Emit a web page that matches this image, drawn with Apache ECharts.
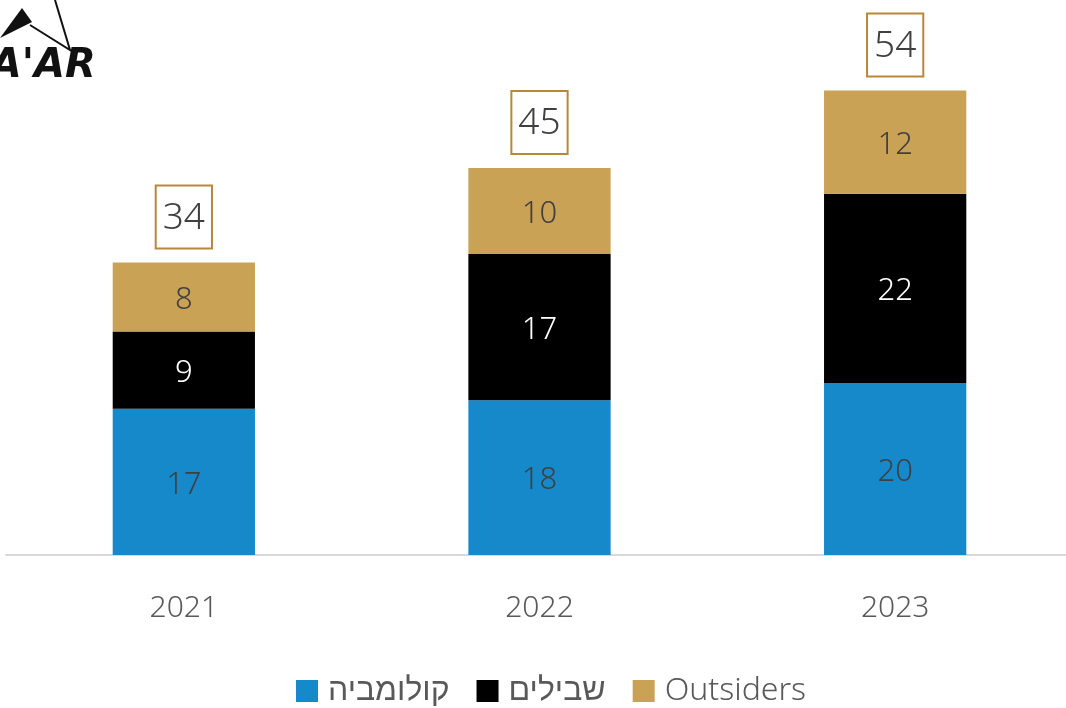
<!DOCTYPE html>
<html>
<head>
<meta charset="utf-8">
<script src="https://cdn.jsdelivr.net/npm/echarts@6/dist/echarts.min.js"></script>
<style>
  html, body { margin: 0; padding: 0; background: #fff; overflow: hidden; }
  #chart { width: 1080px; height: 708px; }
</style>
</head>
<body>
<div id="chart"></div>
<script>
// data
var years = ['2021', '2022', '2023'];
var colombia = [17, 18, 20];   // קולומביה
var shvilim = [9, 17, 22];     // שבילים
var outsiders = [8, 10, 12];   // Outsiders

var totals = years.map(function (y, i) {
  return colombia[i] + shvilim[i] + outsiders[i];
});

var font = 'Noto Sans, DejaVu Sans, sans-serif';
var chart = echarts.init(document.getElementById('chart'));

var segLabel = function (color) {
  return {
    show: true,
    position: 'inside',
    offset: [0, 3],
    color: color,
    fontSize: 31,
    fontFamily: font,
    fontWeight: 300
  };
};

chart.setOption({
  animation: false,
  // the plot runs a little past the right edge of the page
  grid: { left: 6, right: 7, top: 39, bottom: 153 },
  legend: {
    bottom: -4,
    left: 291,
    itemWidth: 22,
    itemHeight: 22,
    itemGap: 27,
    icon: 'rect',
    data: ['קולומביה', 'שבילים', 'Outsiders'],
    textStyle: { fontSize: 32, color: '#595959', fontFamily: font, fontWeight: 300, padding: [0, 0, 0, 5] }
  },
  xAxis: {
    type: 'category',
    data: years,
    axisLine: { lineStyle: { color: '#d9d9d9', width: 2 } },
    axisTick: { show: false },
    axisLabel: { color: '#595959', fontSize: 30, margin: 38, fontFamily: font, fontWeight: 300 }
  },
  yAxis: {
    type: 'value',
    min: 0,
    max: 60,
    show: false,
    splitLine: { show: false }
  },
  graphic: [
    {
      type: 'text',
      left: -38,
      top: 47,
      style: { text: "SA'AR", font: 'italic bold 40px DejaVu Sans', fill: '#111' }
    },
    {
      type: 'polyline',
      shape: { points: [[55, 0], [70, 50], [30, 25]] },
      style: { stroke: '#111', lineWidth: 2, fill: null }
    },
    {
      type: 'polygon',
      shape: { points: [[0, 38], [22, 8], [32, 22]] },
      style: { fill: '#111' }
    }
  ],
  series: [
    {
      name: 'קולומביה',
      type: 'bar',
      stack: 'total',
      barWidth: '40%',
      data: colombia,
      itemStyle: { color: '#1689CB' },
      label: segLabel('#404040')
    },
    {
      name: 'שבילים',
      type: 'bar',
      stack: 'total',
      data: shvilim,
      itemStyle: { color: '#000000' },
      label: segLabel('#ffffff')
    },
    {
      name: 'Outsiders',
      type: 'bar',
      stack: 'total',
      data: outsiders,
      itemStyle: { color: '#C9A256' },
      label: segLabel('#404040')
    },
    {
      name: 'total',
      type: 'bar',
      stack: 'total',
      data: totals.map(function () { return 0; }),
      itemStyle: { color: 'transparent' },
      label: {
        show: true,
        position: 'top',
        distance: 15,
        formatter: function (p) { return totals[p.dataIndex]; },
        color: '#404040',
        fontSize: 37,
        fontFamily: font,
        fontWeight: 300,
        borderColor: '#B8873A',
        borderWidth: 2,
        backgroundColor: '#fff',
        padding: [13, 6, 11, 6]
      }
    }
  ]
});
</script>
</body>
</html>
